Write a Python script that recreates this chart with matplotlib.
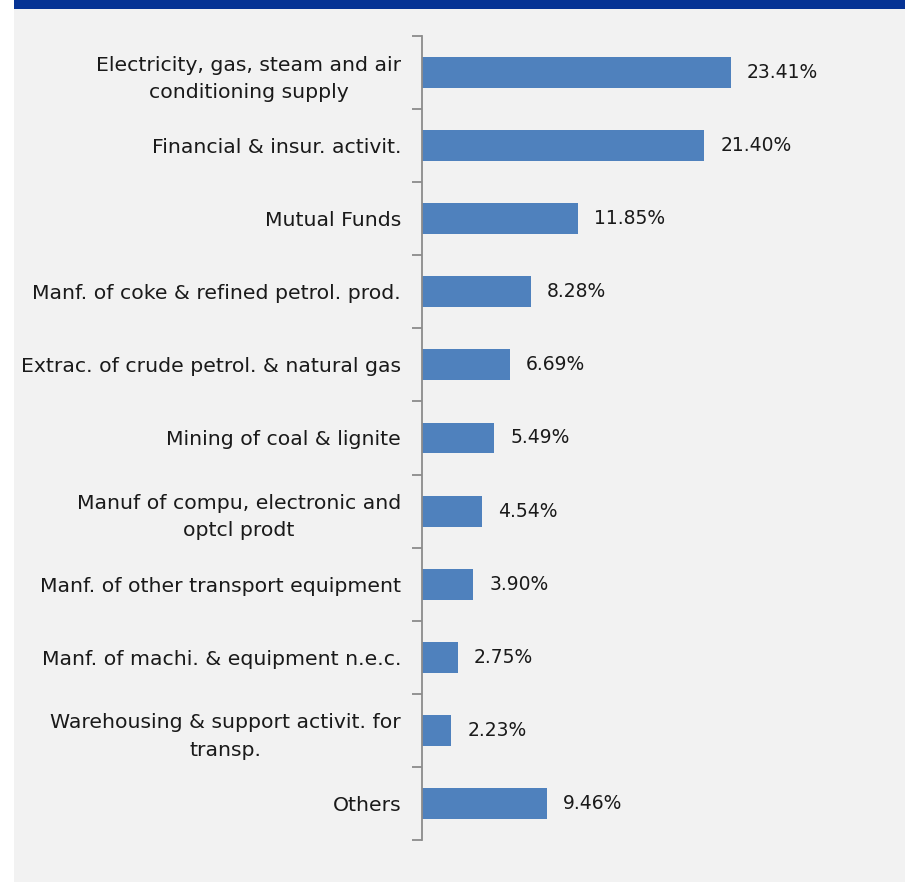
import matplotlib
matplotlib.use("Agg")
import matplotlib.pyplot as plt
from matplotlib.patches import Rectangle
import numpy as np

categories = [
    "Electricity, gas, steam and air\nconditioning supply",
    "Financial & insur. activit.",
    "Mutual Funds",
    "Manf. of coke & refined petrol. prod.",
    "Extrac. of crude petrol. & natural gas",
    "Mining of coal & lignite",
    "Manuf of compu, electronic and\noptcl prodt",
    "Manf. of other transport equipment",
    "Manf. of machi. & equipment n.e.c.",
    "Warehousing & support activit. for\ntransp.",
    "Others",
]
values = [23.41, 21.40, 11.85, 8.28, 6.69, 5.49, 4.54, 3.90, 2.75, 2.23, 9.46]
value_labels = ["23.41%", "21.40%", "11.85%", "8.28%", "6.69%", "5.49%",
                "4.54%", "3.90%", "2.75%", "2.23%", "9.46%"]

W, H = 918, 882
fig = plt.figure(figsize=(W / 100, H / 100), dpi=100)
fig.patch.set_facecolor("white")

# panel background and top band
fig.add_artist(Rectangle((14 / W, 0), (905 - 14) / W, 1 - 9 / H,
                         transform=fig.transFigure, facecolor="#f2f2f2",
                         edgecolor="none", zorder=-10))
fig.add_artist(Rectangle((14 / W, 1 - 9 / H), (905 - 14) / W, 9 / H,
                         transform=fig.transFigure, facecolor="#063394",
                         edgecolor="none", zorder=-10))

x0, x1 = 421.7, 884.0
y_top, y_bot = 36.0, 840.0
ax = fig.add_axes([x0 / W, 1 - y_bot / H, (x1 - x0) / W, (y_bot - y_top) / H])
ax.set_facecolor("none")
ax.set_zorder(5)

n = len(categories)
pos = np.arange(n)
ax.barh(pos, values, height=0.424, color="#4f81bd", edgecolor="none", zorder=2)
ax.set_xlim(0, 35)
ax.set_ylim(n - 0.5, -0.5)

for s in ["top", "right", "bottom"]:
    ax.spines[s].set_visible(False)
ax.spines["left"].set_color("#8c8c8c")
ax.spines["left"].set_linewidth(1.3)
ax.set_xticks([])

ax.set_yticks(np.arange(-0.5, n, 1.0))
ax.set_yticklabels([])
ax.tick_params(axis="y", which="major", length=7, width=1.3, color="#8c8c8c")
ax.set_yticks(pos, minor=True)
ax.set_yticklabels(categories, minor=True, fontsize=14.7, color="#1a1a1a",
                   multialignment="center", linespacing=1.55)
ax.tick_params(axis="y", which="minor", length=0, pad=14.9)

for p, v, lab in zip(pos, values, value_labels):
    ax.annotate(lab, xy=(v, p), xytext=(11.5, 0), textcoords="offset points",
                ha="left", va="center", fontsize=13.5, color="#1a1a1a")

fig.savefig("out.png", dpi=100, facecolor=fig.get_facecolor())
